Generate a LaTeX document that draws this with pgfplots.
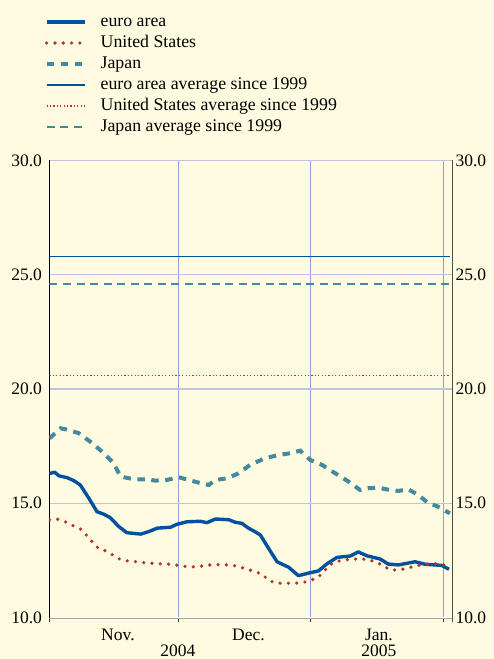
\documentclass[border=0pt]{standalone}
\usepackage{fontspec}
\setmainfont{Liberation Serif}
\newfontfamily\tnr{Liberation Serif}
\usepackage{pgfplots}
\pgfplotsset{compat=1.18}
\definecolor{bg}{RGB}{255,251,224}
\definecolor{euroblue}{RGB}{0,82,160}
\definecolor{usred}{RGB}{178,52,45}
\definecolor{usredthin}{RGB}{200,45,45}
\definecolor{jpteal}{RGB}{70,137,158}
\definecolor{hgrid}{RGB}{190,196,222}
\definecolor{vgrid}{RGB}{140,160,225}
\newcommand{\lblfont}{\tnr\fontsize{17.5}{16.5}\selectfont}
\begin{document}
\begin{tikzpicture}
\path[use as bounding box, fill=bg] (0,0) rectangle (494pt,659pt);
\begin{axis}[
  at={(49.5pt,41.5pt)}, anchor=south west,
  scale only axis, width=402.5pt, height=457pt,
  xmin=0, xmax=94.1, ymin=10, ymax=30,
  axis x line*=bottom, axis y line*=left,
  x axis line style={-, draw=gray!70, double=white, double distance=1.2pt, line width=0.4pt},
  y axis line style={-, draw=black, line width=0.8pt},
  xtick={0,30,61,92}, xticklabels={},
  ytick={10,15,20,25,30},
  xmajorgrids, ymajorgrids,
  major x grid style={vgrid, line width=0.6pt},
  major y grid style={hgrid, line width=1.2pt},
  tick align=outside, major tick length=4pt,
  xtick style={draw=black!80, line width=0.6pt},
  ytick style={draw=none},
  extra x ticks={16,30,46.5,77},
  extra x tick labels={Nov.,{\vphantom{N}\\2004},Dec.,{Jan.\\2005}},
  extra x tick style={grid=none, major tick length=0pt, tick style={draw=none},
    xticklabel style={yshift=-9pt}},
  xticklabel style={align=center, font=\lblfont, inner sep=2pt},
  yticklabel style={font=\lblfont},
  /pgf/number format/.cd, fixed, fixed zerofill, precision=1, assume math mode=true,
  /pgfplots/.cd,
  legend cell align=left,
  legend image code/.code={\draw[#1] (0pt,0pt) -- (38pt,0pt);},
  legend style={at={(-0.0125,1.321)}, anchor=north west, draw=none, fill=none,
    inner sep=0pt, row sep=5pt, column sep=14pt,
    nodes={inner sep=0pt, text height=12pt, text depth=4pt, font=\tnr\fontsize{17.8}{20}\selectfont}},
]
\addplot[euroblue, line width=3.4pt, line join=round] coordinates {
(0,16.3) (1.2,16.36) (2.2,16.2) (4.1,16.12) (5.7,15.99) (7.2,15.8) (9.2,15.22)
(11.1,14.63) (12.7,14.52) (14.2,14.37) (16.2,13.98) (18.1,13.71) (21.3,13.65)
(23.2,13.76) (25.2,13.91) (28.3,13.95) (29.8,14.08) (32.2,14.19) (35.3,14.21)
(36.8,14.15) (38.8,14.31) (41.9,14.28) (43.4,14.17) (45.0,14.12) (46.5,13.91)
(48.1,13.75) (49.3,13.61) (51.2,13.03) (53.2,12.44) (55.9,12.2) (58.2,11.83)
(60.5,11.94) (62.9,12.04) (64.8,12.34) (67.2,12.63) (70.3,12.69) (72.2,12.87)
(74.2,12.7) (77.3,12.56) (79.2,12.34) (81.6,12.3) (83.5,12.37) (85.5,12.44)
(87.8,12.33) (91.7,12.28) (93.4,12.11)};
\addlegendentry{euro area}
\addplot[usred, line width=3.6pt, line cap=round, dash pattern=on 0pt off 8.3pt] coordinates {
(0,14.27) (2.0,14.30) (3.9,14.17) (5.7,14.0) (7.4,13.86) (8.8,13.57) (10.1,13.29)
(11.4,13.03) (13.2,12.91) (15.0,12.71) (16.6,12.53) (18.5,12.47) (20.5,12.44)
(22.4,12.39) (24.4,12.37) (26.3,12.34) (28.4,12.33) (30.4,12.27) (32.3,12.22)
(34.3,12.22) (36.2,12.27) (38.1,12.31) (40.1,12.31) (42.1,12.30) (44.1,12.24)
(46.0,12.12) (47.9,12.02) (49.7,11.90) (51.2,11.63) (53.0,11.50) (54.9,11.50)
(56.9,11.50) (58.8,11.51) (60.8,11.61) (62.6,11.74) (64.0,11.96) (65.2,12.27)
(66.9,12.44) (68.9,12.52) (70.8,12.55) (72.8,12.57) (74.7,12.52) (76.7,12.40)
(78.3,12.22) (80.0,12.07) (81.9,12.09) (83.9,12.17) (85.9,12.27) (87.8,12.33)
(89.7,12.36) (91.7,12.34) (93.4,12.22)};
\addlegendentry{United States}
\addplot[jpteal, line width=4pt, dash pattern=on 7.5pt off 6.5pt] coordinates {
(0,17.84) (2.6,18.28) (3.7,18.24) (6.8,18.07) (10.0,17.63) (12.7,17.19) (15.0,16.75)
(16.6,16.17) (19.7,16.05) (22.8,16.05) (24.7,15.99) (27.5,16.02) (30.2,16.14)
(32.5,16.02) (34.9,15.9) (37.2,15.8) (38.8,16.02) (41.5,16.09) (44.2,16.31)
(46.9,16.68) (50.4,16.97) (53.5,17.11) (56.3,17.19) (58.6,17.3) (60.9,16.9)
(63.7,16.68) (66.8,16.31) (69.9,15.95) (72.6,15.58) (74.6,15.66) (76.9,15.68)
(79.6,15.58) (81.6,15.54) (83.9,15.61) (86.2,15.36) (88.6,15.0) (90.5,14.88)
(92.9,14.63) (93.6,14.56)};
\addlegendentry{Japan}
\addplot[euroblue, line width=1.8pt] coordinates {(0,25.8) (93.6,25.8)};
\addlegendentry{euro area average since 1999}
\addplot[usredthin, line width=1.2pt, dash pattern=on 1.2pt off 2.2pt] coordinates {(0,20.6) (93.6,20.6)};
\addlegendentry{United States average since 1999}
\addplot[jpteal, line width=1.8pt, dash pattern=on 8pt off 5.5pt] coordinates {(0,24.6) (93.6,24.6)};
\addlegendentry{Japan average since 1999}
\end{axis}
\begin{axis}[
  at={(49.5pt,41.5pt)}, anchor=south west,
  scale only axis, width=402.5pt, height=457pt,
  xmin=0, xmax=94.1, ymin=10, ymax=30,
  axis x line=none, axis y line*=right,
  y axis line style={-, draw=gray!60!black, line width=0.8pt, shorten <=-4pt},
  ytick={10,15,20,25,30}, ytick style={draw=none},
  yticklabel style={font=\lblfont},
  /pgf/number format/.cd, fixed, fixed zerofill, precision=1, assume math mode=true,
]
\addplot[draw=none] coordinates {(0,10) (1,10)};
\end{axis}
\end{tikzpicture}
\end{document}
